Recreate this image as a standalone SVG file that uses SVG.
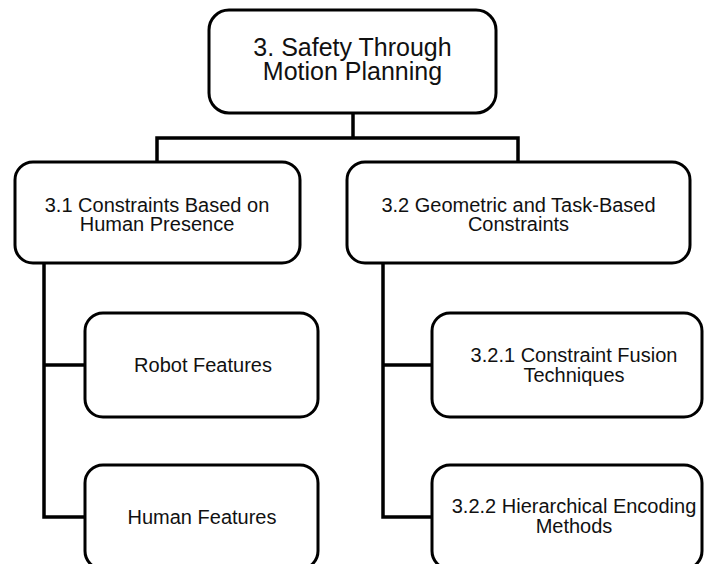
<svg xmlns="http://www.w3.org/2000/svg" width="705" height="564" viewBox="0 0 705 564">
  <style>
    .box { fill: #ffffff; stroke: #000000; stroke-width: 3; }
    .wire { fill: none; stroke: #000000; stroke-width: 3.5; stroke-linejoin: miter; stroke-linecap: butt; }
    text { font-family: "Liberation Sans", Arial, sans-serif; fill: #111111; text-anchor: middle; }
    .t1 { font-size: 25px; }
    .t2 { font-size: 20px; }
  </style>
  <rect width="705" height="564" fill="#ffffff"/>

  <!-- tree connectors -->
  <g id="connectors">
    <path class="wire" d="M353 113 V138"/>
    <path class="wire" d="M157 162 V138 H518 V162"/>
    <path class="wire" d="M44 263 V517 H85"/>
    <path class="wire" d="M44 365 H85"/>
    <path class="wire" d="M383 263 V517 H432"/>
    <path class="wire" d="M383 365 H432"/>
  </g>

  <g id="root">
    <rect class="box" x="209" y="10" width="287" height="103" rx="20"/>
    <text class="t1" x="352.5" y="56">3. Safety Through</text>
    <text class="t1" x="352.5" y="80">Motion Planning</text>
  </g>

  <g id="human-presence">
    <rect class="box" x="15" y="162" width="285" height="101" rx="18"/>
    <text class="t2" x="157" y="212">3.1 Constraints Based on</text>
    <text class="t2" x="157" y="231">Human Presence</text>
  </g>

  <g id="geometric-task">
    <rect class="box" x="347" y="162" width="343" height="101" rx="18"/>
    <text class="t2" x="518.5" y="212">3.2 Geometric and Task-Based</text>
    <text class="t2" x="518.5" y="231">Constraints</text>
  </g>

  <g id="robot-features">
    <rect class="box" x="85" y="313" width="233" height="104" rx="18"/>
    <text class="t2" x="203" y="372">Robot Features</text>
  </g>

  <g id="human-features">
    <rect class="box" x="85" y="465" width="233" height="104" rx="18"/>
    <text class="t2" x="202" y="524">Human Features</text>
  </g>

  <g id="constraint-fusion">
    <rect class="box" x="432" y="313" width="270" height="104" rx="18"/>
    <text class="t2" x="574" y="362">3.2.1 Constraint Fusion</text>
    <text class="t2" x="574" y="382">Techniques</text>
  </g>

  <g id="hierarchical-encoding">
    <rect class="box" x="432" y="465" width="270" height="104" rx="18"/>
    <text class="t2" x="574" y="513">3.2.2 Hierarchical Encoding</text>
    <text class="t2" x="574" y="533">Methods</text>
  </g>
</svg>
